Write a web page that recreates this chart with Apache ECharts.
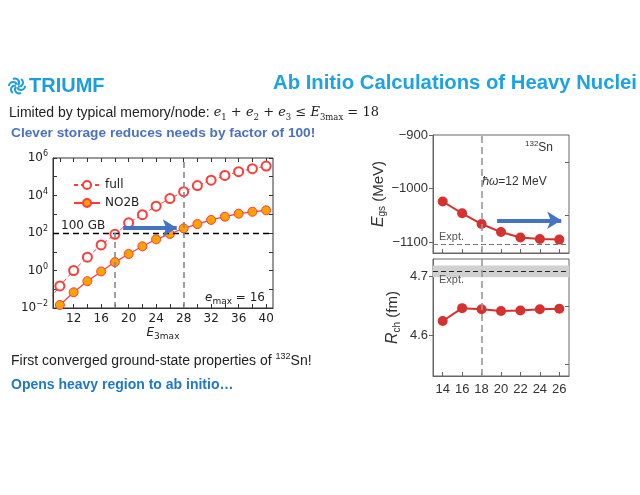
<!DOCTYPE html>
<html><head><meta charset="utf-8">
<script src="https://cdn.jsdelivr.net/npm/echarts@6/dist/echarts.min.js"></script>
<style>html,body{margin:0;padding:0;background:#fff}#c{width:640px;height:495px}</style>
</head><body><div id="c"></div>
<script>
// ---- data ----
const e3max = [8,10,12,14,16,18,20,22,24,26,28,30,32,34,36,38,40];
const fullGB = [0.017,0.15,1.0,5.1,23,85,350,950,2700,6900,16000,34000,66000,117000,186000,270000,370000];
const no2bE3 = [10,12,14,16,18,20,22,24,26,28,30,32,34,36,38,40];
const no2bGB = [0.0145,0.069,0.27,0.89,2.8,7.6,19.5,46,89,178,300,500,740,1070,1350,1620];
const memLimitGB = 100;
const e3Marks = [18, 28];
const e3xTicks = [10,12,14,16,18,20,22,24,26,28,30,32,34,36,38,40];
const e3xLabels = [12,16,20,24,28,32,36,40];

const emaxR = [14,16,18,20,22,24,26];
const egs = [-1024,-1046,-1066,-1081,-1091,-1094,-1095];
const rch = [4.624,4.646,4.644,4.641,4.642,4.644,4.645];
const exptE = -1102.8;
const exptR = 4.709, exptRlo = 4.699, exptRhi = 4.719;
const egsLabels = [-1100,-1000,-900], egsMinor = [-1050,-950];
const rchLabels = [4.6,4.7], rchMinor = [4.55,4.65];

const chart = echarts.init(document.getElementById('c'));
const SANS = 'Liberation Sans';
const DJ = 'DejaVu Sans';
const RED = '#ff3b3b';
const BLUE_ARROW = '#4472c4';
const minus = v => (v < 0 ? '\u2212' : '') + Math.abs(v);

const arrow = (x0, x1, y) => [
  {coord:[x0,y], symbol:'none', lineStyle:{color:BLUE_ARROW,width:4,type:'solid'}, label:{show:false}},
  {coord:[x1,y], symbol:'arrow', symbolSize:[13,14]}
];
const nameRich = {
  i:{fontFamily:SANS,fontStyle:'italic',fontSize:16,lineHeight:18,color:'#333'},
  s:{fontFamily:SANS,fontSize:10,lineHeight:9,verticalAlign:'bottom',color:'#333'},
  n:{fontFamily:SANS,fontSize:15,lineHeight:18,color:'#333'}
};

const opt = {
  animation:false,
  grid:[
    {left:53, top:158, width:220, height:150, show:true, borderColor:'#333', borderWidth:1, containLabel:false, outerBoundsMode:'none'},
    {left:433, top:135, width:136, height:118, show:true, borderColor:'#666', borderWidth:1, containLabel:false, outerBoundsMode:'none'},
    {left:433, top:259, width:136, height:117, show:true, borderColor:'#666', borderWidth:1, containLabel:false, outerBoundsMode:'none'}
  ],
  xAxis:[
    {type:'value', gridIndex:0, min:9, max:41,
     axisLine:{show:true,onZero:false,lineStyle:{color:'#333'}},
     axisTick:{show:true,inside:true,length:4,customValues:e3xTicks,lineStyle:{color:'#333'}},
     axisLabel:{customValues:e3xLabels,fontFamily:DJ,fontSize:12,color:'#222',margin:5},
     splitLine:{show:false}},
    {type:'value', gridIndex:0, min:9, max:41, position:'top',
     axisLine:{show:false}, axisTick:{show:true,inside:true,length:4,customValues:e3xTicks,lineStyle:{color:'#333'}},
     axisLabel:{show:false}, splitLine:{show:false}},
    {type:'value', gridIndex:1, min:13, max:27,
     axisLine:{show:true,onZero:false,lineStyle:{color:'#666'}},
     axisTick:{show:true,inside:true,length:4,customValues:emaxR,lineStyle:{color:'#666'}},
     axisLabel:{show:false}, splitLine:{show:false}},
    {type:'value', gridIndex:2, min:13, max:27,
     axisLine:{show:true,onZero:false,lineStyle:{color:'#666'}},
     axisTick:{show:true,inside:true,length:4,customValues:emaxR,lineStyle:{color:'#666'}},
     axisLabel:{customValues:emaxR,fontFamily:SANS,fontSize:13,color:'#333',margin:7},
     splitLine:{show:false}}
  ],
  yAxis:[
    {type:'log', gridIndex:0, logBase:10, min:0.01, max:1e6, interval:1,
     axisLine:{show:true,lineStyle:{color:'#333'}},
     axisTick:{show:true,inside:true,length:4,lineStyle:{color:'#333'}},
     axisLabel:{fontFamily:DJ,fontSize:12,color:'#222',margin:5,lineHeight:16,
       formatter:v=>{const e=Math.round(Math.log10(v)); if(e%2!==0) return ''; return '10{sup|'+minus(e)+'}';},
       rich:{sup:{fontSize:8,fontFamily:DJ,color:'#222',verticalAlign:'top',lineHeight:8}}},
     splitLine:{show:false}, minorTick:{show:false}},
    {type:'log', gridIndex:0, logBase:10, min:0.01, max:1e6, interval:1, position:'right',
     axisLine:{show:false}, axisTick:{show:true,inside:true,length:4,lineStyle:{color:'#333'}},
     axisLabel:{show:false}, splitLine:{show:false}},
    {type:'value', gridIndex:1, min:-1120, max:-900,
     name:'{i|E}{s|gs}{n| (MeV)}', nameLocation:'middle', nameRotate:90, nameGap:42,
     nameTextStyle:{rich:nameRich},
     axisLine:{show:true,onZero:false,lineStyle:{color:'#666'}},
     axisTick:{show:true,inside:false,length:4,customValues:egsLabels,lineStyle:{color:'#666'}},
     axisLabel:{customValues:egsLabels,fontFamily:SANS,fontSize:13,color:'#333',margin:5,formatter:v=>minus(v)},
     splitLine:{show:false}},
    {type:'value', gridIndex:1, min:-1120, max:-900,
     axisLine:{show:false}, axisTick:{show:true,inside:true,length:4,customValues:egsMinor,lineStyle:{color:'#666'}},
     axisLabel:{show:false}, splitLine:{show:false}},
    {type:'value', gridIndex:2, min:4.53, max:4.73,
     name:'{i|R}{s|ch}{n| (fm)}', nameLocation:'middle', nameRotate:90, nameGap:31,
     nameTextStyle:{rich:nameRich},
     axisLine:{show:true,onZero:false,lineStyle:{color:'#666'}},
     axisTick:{show:true,inside:false,length:4,customValues:rchLabels,lineStyle:{color:'#666'}},
     axisLabel:{customValues:rchLabels,fontFamily:SANS,fontSize:13,color:'#333',margin:5,formatter:v=>v.toFixed(1)},
     splitLine:{show:false}},
    {type:'value', gridIndex:2, min:4.53, max:4.73,
     axisLine:{show:false}, axisTick:{show:true,inside:true,length:4,customValues:rchMinor,lineStyle:{color:'#666'}},
     axisLabel:{show:false}, splitLine:{show:false}}
  ],
  legend:{data:['full','NO2B'], orient:'vertical', left:68, top:174, itemWidth:26, itemHeight:10, itemGap:6,
    textStyle:{fontFamily:DJ,fontSize:12,color:'#222'}},
  series:[
    {name:'full', type:'line', xAxisIndex:0, yAxisIndex:0, clip:true,
     data:e3max.map((x,i)=>[x,fullGB[i]]),
     symbol:'emptyCircle', symbolSize:9,
     lineStyle:{color:RED,width:1,type:[4,3]},
     itemStyle:{color:RED,borderWidth:1.2},
     z:3,
     markLine:{silent:true, symbol:'none', animation:false,
       data:[
         [{coord:[9,memLimitGB], lineStyle:{color:'#000',width:1.4,type:[6,4]},
           label:{show:true,position:'insideStartTop',formatter:'100 GB',fontFamily:DJ,fontSize:12,color:'#222',distance:[8,1]}},
          {coord:[41,memLimitGB]}],
         [{coord:[e3Marks[0],0.01], lineStyle:{color:'#888',width:1.6,type:[6,4]}, label:{show:false}},{coord:[e3Marks[0],memLimitGB]}],
         [{coord:[e3Marks[1],0.01], lineStyle:{color:'#888',width:1.6,type:[6,4]}, label:{show:false}},{coord:[e3Marks[1],1e6]}],
         arrow(19.2, 27.0, 186)
       ]}},
    {name:'NO2B', type:'line', xAxisIndex:0, yAxisIndex:0, clip:true,
     data:no2bE3.map((x,i)=>[x,no2bGB[i]]),
     symbol:'circle', symbolSize:9,
     lineStyle:{color:RED,width:1.2},
     itemStyle:{color:'#ffa200',borderColor:RED,borderWidth:1},
     z:4},
    {name:'Egs', type:'line', xAxisIndex:2, yAxisIndex:2,
     data:emaxR.map((x,i)=>[x,egs[i]]),
     symbol:'circle', symbolSize:10,
     lineStyle:{color:'#d6302f',width:2}, itemStyle:{color:'#d6302f'},
     markLine:{silent:true, symbol:'none', animation:false,
       data:[
         [{coord:[13,exptE], lineStyle:{color:'#777',width:1.2,type:[5,3]},
           label:{show:true,position:'insideStartTop',formatter:'Expt.',fontFamily:SANS,fontSize:11,color:'#555',distance:[6,1]}},
          {coord:[27,exptE]}],
         [{coord:[18,-1120], lineStyle:{color:'#999',width:1.6,type:[7,4]}, label:{show:false}},{coord:[18,-900]}],
         arrow(19.6, 26.2, -1059)
       ]}},
    {name:'Rch', type:'line', xAxisIndex:3, yAxisIndex:4,
     data:emaxR.map((x,i)=>[x,rch[i]]),
     symbol:'circle', symbolSize:10,
     lineStyle:{color:'#d6302f',width:2}, itemStyle:{color:'#d6302f'},
     markArea:{silent:true, itemStyle:{color:'#d0d0d0'}, data:[[{coord:[13,exptRlo]},{coord:[27,exptRhi]}]]},
     markLine:{silent:true, symbol:'none', animation:false,
       data:[
         [{coord:[13,exptR], lineStyle:{color:'#222',width:1.2,type:[5,3]},
           label:{show:true,position:'insideStartBottom',formatter:'Expt.',fontFamily:SANS,fontSize:11,color:'#555',distance:[6,3]}},
          {coord:[27,exptR]}],
         [{coord:[18,4.53], lineStyle:{color:'#999',width:1.6,type:[7,4]}, label:{show:false}},{coord:[18,4.73]}]
       ]}}
  ],
  graphic:[]
};

// logo pinwheel
const g = opt.graphic;
for (let k=0;k<6;k++){
  const a = k*Math.PI/3;
  g.push({type:'arc', shape:{cx:17+4*Math.cos(a), cy:86+4*Math.sin(a), r:4, startAngle:a, endAngle:a+Math.PI*0.9},
    style:{stroke:'#1a9ee0', lineWidth:2, fill:null}});
}
const T = (x,y,text,style,extra) => g.push(Object.assign({type:'text', x:x, y:y,
  style:Object.assign({text:text, fontFamily:SANS, fontSize:14, fill:'#222', verticalAlign:'middle', align:'left'}, style)}, extra||{}));

T(29,86,'TRIUMF',{fontSize:20,fontWeight:'bold',fill:'#1a9ee0'});
T(637,83,'Ab Initio Calculations of Heavy Nuclei',{fontSize:20.3,fontWeight:'bold',fill:'#1ba3e6',align:'right'});
T(9,113,'Limited by typical memory/node: {m|e}{s|1}{o| + }{m|e}{s|2}{o| + }{m|e}{s|3}{o| \u2264 }{m|E}{s|3max}{o| = 18}',
  {fontSize:14, lineHeight:18, rich:{
    m:{fontFamily:'DejaVu Serif',fontStyle:'italic',fontSize:13,lineHeight:18,fill:'#222'},
    s:{fontFamily:'DejaVu Serif',fontSize:8.5,lineHeight:9,verticalAlign:'bottom',fill:'#222'},
    o:{fontFamily:'DejaVu Serif',fontSize:13,lineHeight:18,fill:'#222'}}});
T(11,133,'Clever storage reduces needs by factor of 100!',{fontSize:13.7,fontWeight:'bold',fill:'#4a72c4'});
T(11,361,'First converged ground-state properties of {p|132}Sn!',{fontSize:14,lineHeight:18,
  rich:{p:{fontSize:9,lineHeight:9,verticalAlign:'top',fill:'#222'}}});
T(11,385,'Opens heavy region to ab initio\u2026',{fontSize:14,fontWeight:'bold',fill:'#1f78c8'});

// left chart texts
T(13,233,'File size (GB)',{fontFamily:DJ,fontSize:12,align:'center'},{rotation:Math.PI/2, originX:13, originY:233});
T(163,333,'{i|E}{s|3max}',{fontFamily:DJ,fontSize:12,align:'center',lineHeight:16,
  rich:{i:{fontFamily:DJ,fontStyle:'italic',fontSize:12,lineHeight:16,fill:'#222'},
        s:{fontFamily:DJ,fontSize:9,lineHeight:8,verticalAlign:'bottom',fill:'#222'}}});
T(205,298,'{i|e}{s|max}{n| = 16}',{fontFamily:DJ,fontSize:12,lineHeight:16,
  rich:{i:{fontFamily:DJ,fontStyle:'italic',fontSize:12,lineHeight:16,fill:'#222'},
        s:{fontFamily:DJ,fontSize:9,lineHeight:8,verticalAlign:'bottom',fill:'#222'},
        n:{fontFamily:DJ,fontSize:12,lineHeight:16,fill:'#222'}}});

// right chart texts
T(525,148,'{p|132}Sn',{fontSize:12,lineHeight:16,fill:'#333',
  rich:{p:{fontSize:8,lineHeight:8,verticalAlign:'top',fill:'#333'}}});
T(482,182,'\u210F{w|\u03C9}=12 MeV',{fontSize:12,fill:'#333',lineHeight:16,
  rich:{w:{fontStyle:'italic',fontSize:12,lineHeight:16,fill:'#333'}}});

chart.setOption(opt);
</script></body></html>
